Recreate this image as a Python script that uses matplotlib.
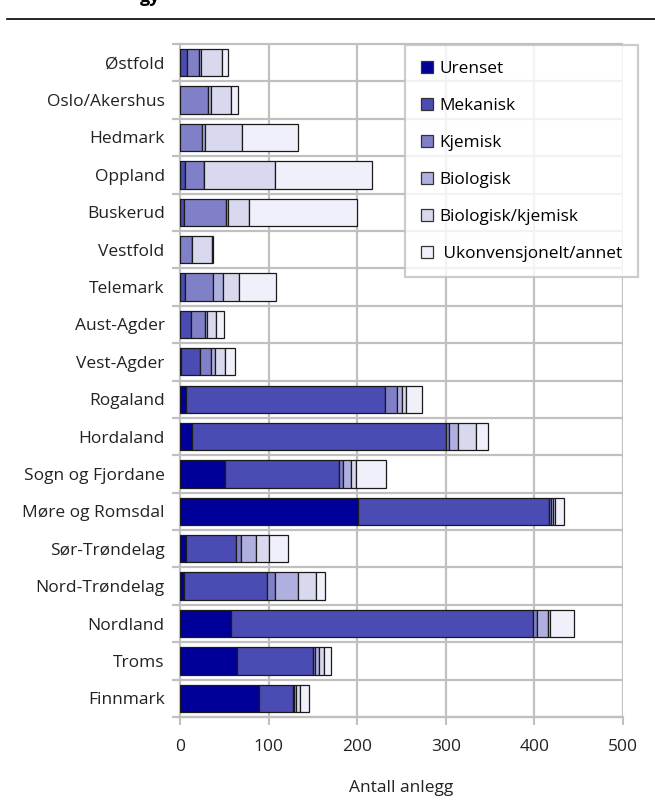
import matplotlib
matplotlib.use("Agg")
import matplotlib.pyplot as plt
import numpy as np
from matplotlib.patches import Patch

plt.rcParams['font.family'] = ['Open Sans', 'DejaVu Sans']

counties = ["Østfold", "Oslo/Akershus", "Hedmark", "Oppland", "Buskerud", "Vestfold",
            "Telemark", "Aust-Agder", "Vest-Agder", "Rogaland", "Hordaland",
            "Sogn og Fjordane", "Møre og Romsdal", "Sør-Trøndelag", "Nord-Trøndelag",
            "Nordland", "Troms", "Finnmark"]

urenset      = [0, 0, 0, 0, 0, 0, 0, 0, 1, 7, 14, 51, 201, 7, 4, 57, 64, 89]
mekanisk     = [8, 0, 0, 6, 5, 0, 6, 12, 22, 224, 286, 129, 215, 56, 94, 341, 86, 38]
kjemisk      = [14, 32, 25, 21, 47, 13, 31, 16, 12, 14, 4, 4, 3, 6, 9, 5, 2, 2]
biologisk    = [2, 3, 3, 0, 2, 0, 12, 2, 4, 5, 10, 9, 2, 17, 26, 12, 5, 2]
bio_kjemisk  = [23, 22, 42, 80, 24, 23, 18, 11, 12, 5, 20, 6, 2, 15, 20, 3, 5, 4]
ukonv        = [7, 8, 63, 110, 122, 1, 41, 9, 11, 18, 14, 33, 10, 21, 11, 27, 8, 11]

series_names = ["Urenset", "Mekanisk", "Kjemisk", "Biologisk", "Biologisk/kjemisk",
                " Ukonvensjonelt/annet"]
colors = ["#000099", "#4B4BB4", "#8080C8", "#B0B0E0", "#D8D8EE", "#F0F0FA"]
xticks = [0, 100, 200, 300, 400, 500]
xlabel = "Antall anlegg"

W, H = 655, 811
fig = plt.figure(figsize=(W / 100, H / 100), dpi=100)
ax = fig.add_axes([180 / W, 1 - 717 / H, (623 - 180) / W, (717 - 44) / H])

data = [urenset, mekanisk, kjemisk, biologisk, bio_kjemisk, ukonv]
y = np.arange(len(counties))
left = np.zeros(len(counties))
for vals, col, name in zip(data, colors, series_names):
    vals = np.array(vals, dtype=float)
    ax.barh(y, vals, left=left, height=0.73, color=col, edgecolor="#1a1a1a",
            linewidth=0.9, label=name, zorder=3)
    left += vals

grid_col = "#c0c0c0"
ax.set_xlim(0, 500)
ax.set_ylim(len(counties) - 0.5, -0.5)
ax.set_xticks(xticks)
ax.set_xticklabels([str(v) for v in xticks], fontsize=12.5, color="#222222")
ax.set_yticks(y)
ax.set_yticklabels(counties, fontsize=12.5, color="#222222")
ax.tick_params(axis="y", length=0, pad=11)
ax.tick_params(axis="x", length=6, width=1.5, color=grid_col, pad=10)

# vertical gridlines
for v in xticks[1:]:
    ax.axvline(v, color=grid_col, linewidth=1.6, zorder=1)
# horizontal separators between categories (with ticks to the left)
for b in np.arange(-0.5, len(counties) + 0.5, 1.0):
    ax.plot([-9, 500], [b, b], color=grid_col, linewidth=1.6, zorder=1,
            clip_on=False, solid_capstyle="butt")

for s in ["top", "right"]:
    ax.spines[s].set_visible(False)
for s in ["left", "bottom"]:
    ax.spines[s].set_color(grid_col)
    ax.spines[s].set_linewidth(1.6)

ax.set_xlabel(xlabel, fontsize=12.5, color="#222222", labelpad=18)

handles = [Patch(facecolor=c, edgecolor="#333333", linewidth=0.9) for c in colors]
leg = fig.legend(handles, series_names, loc="upper left",
                 bbox_to_anchor=(405 / W, 1 - 45 / H), bbox_transform=fig.transFigure,
                 fontsize=12.4, frameon=True, fancybox=False, handlelength=0.7,
                 handleheight=0.7, handletextpad=0.4, labelspacing=1.22,
                 borderpad=0.9, borderaxespad=0)
leg.get_frame().set_edgecolor(grid_col)
leg.get_frame().set_linewidth(1.6)
leg.set_zorder(10)

# top rule and clipped title fragment
fig.add_artist(plt.Line2D([7 / W, 1], [1 - 19 / H, 1 - 19 / H], color="black",
                          linewidth=1.2, transform=fig.transFigure))
fig.text(140 / W, 1 - 2 / H, "gy", fontsize=13, fontweight="bold", va="baseline",
         ha="left")

fig.savefig("out.png", dpi=100)
